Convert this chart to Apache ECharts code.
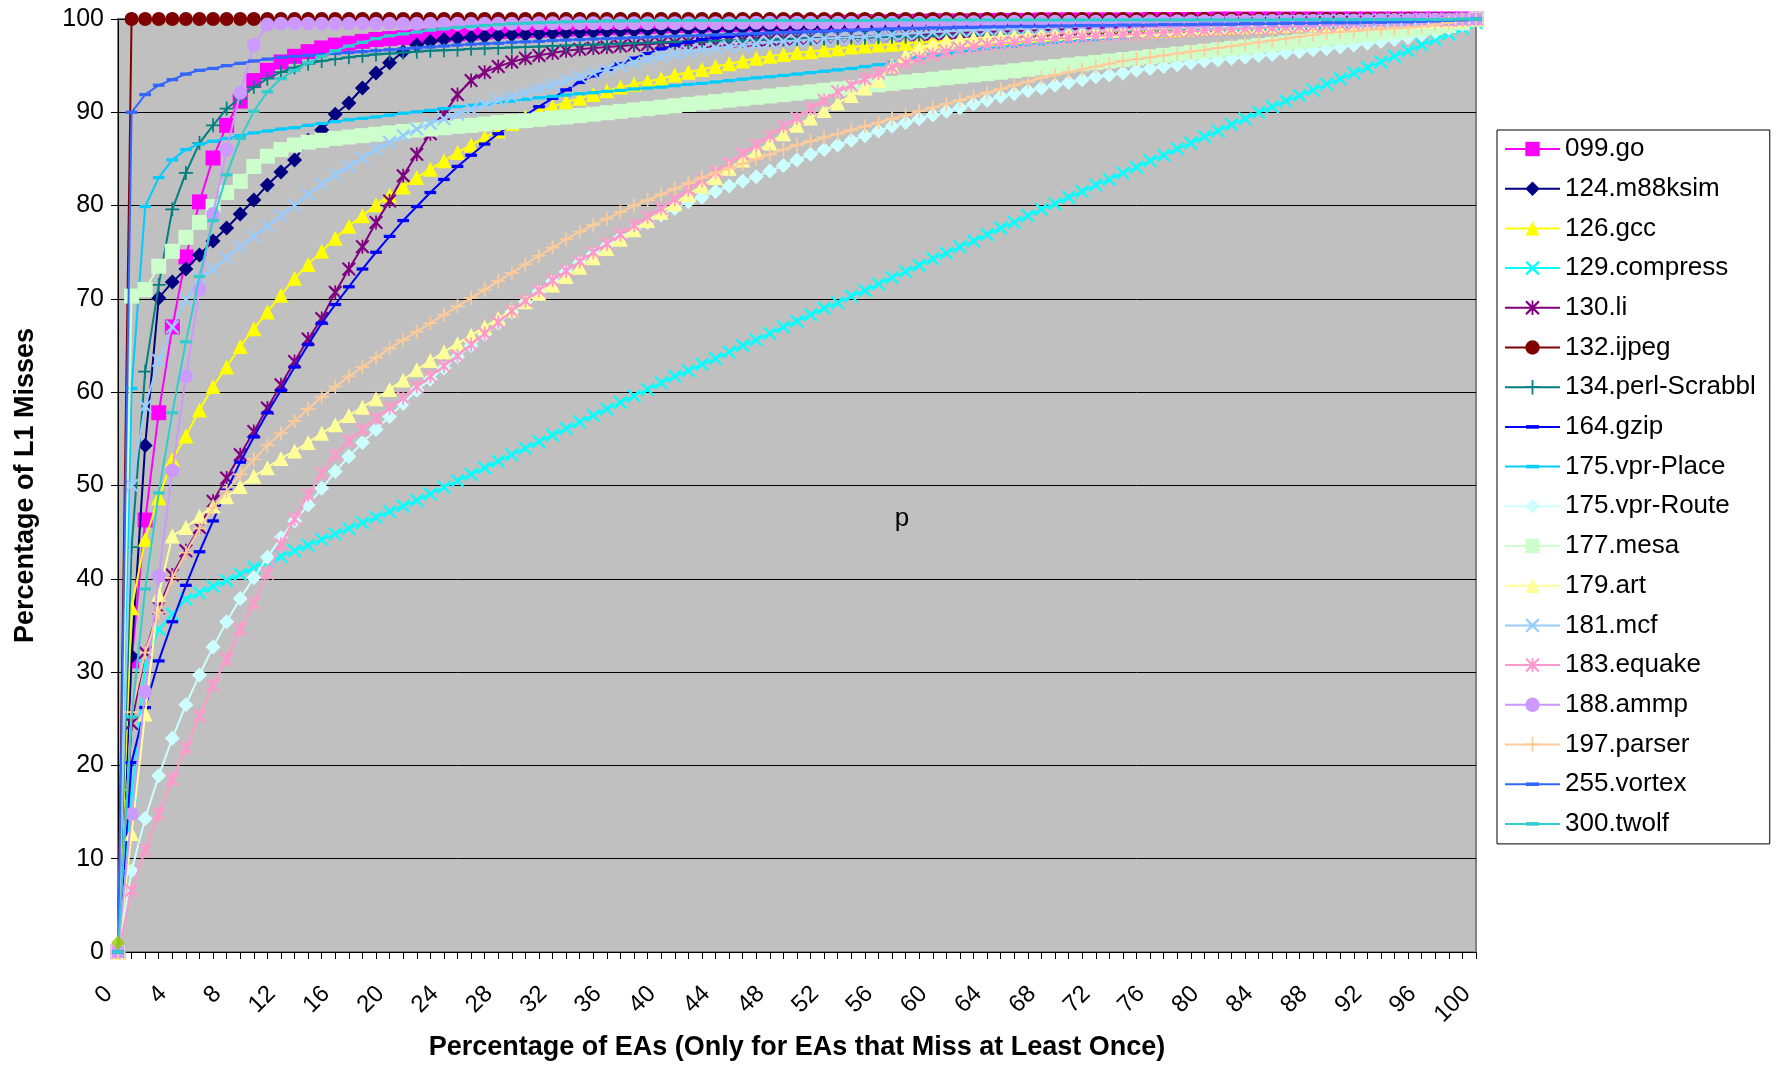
<!DOCTYPE html>
<html>
<head>
<meta charset="utf-8">
<script src="https://cdn.jsdelivr.net/npm/echarts/dist/echarts.min.js"></script>
<style>
html,body{margin:0;padding:0;background:#fff;}
#chart{width:1780px;height:1066px;}
</style>
</head>
<body>
<div id="chart"></div>
<script>
// ---- categories (percentage of EAs) ----
const xCats = ['0','1','2','3','4','5','6','7','8','9','10','11','12','13','14','15','16','17','18','19','20',
'21','22','23','24','25','26','27','28','29','30','31','32','33','34','35','36','37','38','39','40',
'41','42','43','44','45','46','47','48','49','50','51','52','53','54','55','56','57','58','59','60',
'61','62','63','64','65','66','67','68','69','70','71','72','73','74','75','76','77','78','79','80',
'81','82','83','84','85','86','87','88','89','90','91','92','93','94','95','96','97','98','99','100'];

const seriesNames = ['099.go','124.m88ksim','126.gcc','129.compress','130.li','132.ijpeg','134.perl-Scrabbl','164.gzip',
'175.vpr-Place','175.vpr-Route','177.mesa','179.art','181.mcf','183.equake','188.ammp','197.parser','255.vortex','300.twolf'];

// ---- series values (percentage of L1 misses) ----
const go = [0,
31.2,46.3,57.8,67.0,74.5,80.4,85.1,88.6,91.2,93.4,
94.5,95.4,96.0,96.5,96.9,97.2,97.4,97.6,97.8,97.9,
98.0,98.1,98.2,98.3,98.4,98.5,98.6,98.65,98.7,98.75,
98.8,98.85,98.9,98.95,99.0,99.05,99.1,99.15,99.2,99.25,
99.3,99.3,99.35,99.4,99.4,99.45,99.5,99.5,99.55,99.6,
99.6,99.6,99.65,99.65,99.7,99.7,99.7,99.75,99.75,99.8,
99.8,99.8,99.8,99.85,99.85,99.85,99.85,99.9,99.9,99.9,
99.9,99.9,99.9,99.9,99.9,99.95,99.95,99.95,99.95,99.95,
100,100,100,100,100,100,100,100,100,100,
100,100,100,100,100,100,100,100,100,100];
const m88ksim = [0,
31.7,54.3,70.1,71.8,73.2,74.7,76.2,77.6,79.1,80.6,
82.2,83.6,84.9,87.0,88.1,89.8,91.0,92.6,94.2,95.3,
96.5,97.2,97.6,97.8,97.95,98.05,98.15,98.25,98.3,98.35,
98.4,98.45,98.5,98.55,98.6,98.65,98.7,98.75,98.8,98.85,
98.9,98.9,98.95,98.95,99.0,99.0,99.05,99.05,99.1,99.1,
99.15,99.15,99.2,99.2,99.25,99.25,99.3,99.3,99.35,99.35,
99.4,99.4,99.45,99.45,99.5,99.5,99.5,99.55,99.55,99.6,
99.6,99.6,99.65,99.65,99.7,99.7,99.7,99.75,99.75,99.8,
99.8,99.8,99.8,99.85,99.85,99.85,99.9,99.9,99.9,99.9,
99.9,99.9,99.95,99.95,99.95,99.95,100,100,100,100];
const gcc = [0,
36.9,44.2,48.7,52.8,55.3,58.1,60.6,62.7,64.9,66.8,
68.6,70.4,72.2,73.7,75.1,76.5,77.8,78.9,80.1,81.1,
82.0,83.0,83.9,84.8,85.7,86.5,87.3,88.0,88.8,89.5,
90.1,90.6,91.1,91.5,91.9,92.3,92.7,93.0,93.3,93.6,
94.0,94.3,94.6,94.9,95.2,95.5,95.8,96.0,96.2,96.4,
96.5,96.7,96.8,97.0,97.1,97.2,97.3,97.4,97.5,97.6,
97.7,97.8,97.85,97.9,98.0,98.1,98.15,98.2,98.3,98.4,
98.45,98.5,98.6,98.65,98.7,98.75,98.8,98.85,98.9,99.0,
99.05,99.1,99.15,99.2,99.25,99.3,99.35,99.4,99.45,99.5,
99.55,99.6,99.65,99.7,99.75,99.8,99.85,99.9,99.95,100];
const compress = [0,
16.8,30.7,34.6,36.2,37.8,38.5,39.2,39.8,40.5,41.2,
41.8,42.4,43.0,43.6,44.2,44.8,45.4,46.0,46.6,47.2,
47.8,48.4,49.1,49.8,50.5,51.2,51.9,52.6,53.3,54.0,
54.7,55.4,56.1,56.8,57.5,58.2,58.9,59.6,60.3,61.0,
61.7,62.3,63.0,63.6,64.3,65.0,65.6,66.3,67.0,67.6,
68.3,69.0,69.6,70.3,70.9,71.6,72.3,72.9,73.6,74.3,
74.9,75.6,76.2,76.9,77.6,78.2,78.9,79.6,80.2,80.9,
81.5,82.2,82.8,83.5,84.1,84.8,85.4,86.1,86.7,87.4,
88.0,88.7,89.3,90.0,90.6,91.2,91.8,92.4,93.0,93.6,
94.2,94.8,95.4,96.0,96.6,97.2,97.8,98.4,99.0,99.6];
const li = [0,
24.5,32.1,36.9,40.4,43.0,45.5,48.3,50.8,53.3,55.8,
58.3,60.8,63.3,65.7,67.9,70.7,73.2,75.6,78.2,80.5,
83.2,85.5,87.7,89.8,91.9,93.4,94.3,94.9,95.4,95.8,
96.1,96.35,96.6,96.75,96.9,97.0,97.1,97.2,97.3,97.4,
97.45,97.5,97.55,97.6,97.65,97.7,97.75,97.8,97.85,97.9,
97.95,98.0,98.05,98.1,98.15,98.2,98.25,98.3,98.35,98.4,
98.45,98.5,98.55,98.6,98.65,98.7,98.75,98.8,98.85,98.9,
98.95,99.0,99.0,99.05,99.1,99.1,99.15,99.2,99.2,99.25,
99.3,99.3,99.35,99.4,99.4,99.45,99.5,99.5,99.55,99.6,
99.6,99.65,99.7,99.7,99.75,99.8,99.85,99.9,99.95,100];
const ijpeg = [0,
100,100,100,100,100,100,100,100,100,100,
100,100,100,100,100,100,100,100,100,100,
100,100,100,100,100,100,100,100,100,100,
100,100,100,100,100,100,100,100,100,100,
100,100,100,100,100,100,100,100,100,100,
100,100,100,100,100,100,100,100,100,100,
100,100,100,100,100,100,100,100,100,100,
100,100,100,100,100,100,100,100,100,100,
100,100,100,100,100,100,100,100,100,100,
100,100,100,100,100,100,100,100,100,100];
const perl = [0,
43.4,62.2,71.5,79.6,83.5,86.7,88.6,90.4,91.5,92.7,
93.6,94.3,94.8,95.2,95.5,95.7,95.9,96.05,96.2,96.3,
96.4,96.5,96.6,96.65,96.7,96.8,96.85,96.9,96.95,97.0,
97.05,97.1,97.15,97.2,97.25,97.3,97.35,97.4,97.45,97.5,
97.55,97.6,97.6,97.65,97.7,97.7,97.75,97.8,97.8,97.85,
97.9,97.9,97.95,98.0,98.0,98.05,98.1,98.1,98.15,98.2,
98.25,98.3,98.3,98.35,98.4,98.45,98.5,98.5,98.55,98.6,
98.65,98.7,98.7,98.75,98.8,98.85,98.9,98.9,98.95,99.0,
99.05,99.1,99.1,99.15,99.2,99.25,99.3,99.3,99.35,99.4,
99.45,99.5,99.55,99.6,99.65,99.7,99.8,99.85,99.9,100];
const gzip = [0,
20.3,26.2,31.2,35.4,39.3,42.9,46.2,49.5,52.5,55.2,
57.8,60.2,62.7,65.1,67.4,69.4,71.3,73.2,75.0,76.7,
78.4,79.9,81.4,82.8,84.2,85.4,86.6,87.7,88.7,89.7,
90.6,91.5,92.4,93.2,93.9,94.6,95.2,95.8,96.3,96.8,
97.2,97.5,97.8,98.0,98.15,98.3,98.4,98.5,98.55,98.6,
98.65,98.7,98.75,98.8,98.85,98.9,98.95,99.0,99.05,99.1,
99.1,99.15,99.15,99.2,99.2,99.25,99.3,99.3,99.35,99.4,
99.4,99.45,99.45,99.5,99.5,99.5,99.55,99.55,99.6,99.6,
99.6,99.65,99.65,99.7,99.7,99.7,99.75,99.75,99.8,99.8,
99.8,99.85,99.85,99.9,99.9,99.9,99.95,99.95,100,100];
const vprPlace = [0,
60.4,79.9,83.0,84.9,86.0,86.6,86.9,87.2,87.5,87.8,
88.0,88.2,88.35,88.6,88.8,89.0,89.2,89.35,89.5,89.7,
89.9,90.05,90.2,90.4,90.6,90.75,90.9,91.05,91.2,91.4,
91.55,91.7,91.85,92.0,92.1,92.25,92.35,92.5,92.6,92.7,
92.85,93.0,93.1,93.25,93.4,93.55,93.7,93.8,93.95,94.1,
94.25,94.4,94.55,94.7,94.9,95.1,95.35,95.6,95.85,96.1,
96.3,96.5,96.65,96.85,97.0,97.1,97.25,97.35,97.5,97.6,
97.7,97.8,97.9,98.0,98.1,98.2,98.25,98.35,98.4,98.5,
98.6,98.65,98.75,98.8,98.9,98.95,99.0,99.1,99.15,99.2,
99.3,99.35,99.45,99.5,99.6,99.7,99.75,99.85,99.9,100];
const vprRoute = [0,
8.7,14.3,18.9,22.9,26.5,29.7,32.7,35.4,37.9,40.1,
42.3,44.4,46.2,47.9,49.7,51.5,53.1,54.6,56.0,57.4,
58.8,60.2,61.4,62.6,63.8,65.0,66.2,67.4,68.6,69.7,
70.8,71.9,72.9,73.9,74.8,75.7,76.6,77.4,78.2,79.0,
79.7,80.4,80.9,81.5,82.1,82.6,83.1,83.7,84.3,84.9,
85.5,86.0,86.5,87.0,87.5,88.0,88.5,88.9,89.3,89.7,
90.1,90.5,90.9,91.3,91.7,92.0,92.3,92.6,92.9,93.2,
93.5,93.8,94.0,94.2,94.5,94.7,94.9,95.1,95.3,95.5,
95.6,95.8,95.9,96.1,96.2,96.4,96.5,96.7,96.8,97.0,
97.2,97.4,97.6,97.8,98.0,98.3,98.6,99.0,99.4,100];
const mesa = [0,
70.3,71.0,73.5,75.1,76.6,78.2,79.9,81.4,82.6,84.2,
85.3,86.0,86.5,86.8,87.0,87.2,87.35,87.5,87.65,87.8,
87.95,88.1,88.2,88.35,88.5,88.6,88.75,88.9,89.0,89.1,
89.25,89.4,89.5,89.65,89.8,89.95,90.1,90.25,90.4,90.55,
90.7,90.85,91.0,91.15,91.3,91.45,91.6,91.75,91.9,92.05,
92.2,92.35,92.5,92.65,92.8,92.95,93.1,93.25,93.4,93.55,
93.7,93.85,94.0,94.15,94.3,94.45,94.6,94.75,94.9,95.05,
95.2,95.35,95.5,95.65,95.8,95.95,96.1,96.25,96.4,96.55,
96.7,96.85,97.0,97.15,97.3,97.45,97.6,97.75,97.9,98.05,
98.2,98.35,98.5,98.65,98.8,98.95,99.1,99.3,99.6,100];
const art = [0,
12.7,25.5,38.3,44.6,45.5,46.7,47.8,48.8,49.9,51.0,
51.9,52.9,53.7,54.6,55.6,56.5,57.5,58.4,59.3,60.3,
61.3,62.4,63.4,64.3,65.2,66.1,67.0,67.9,68.8,69.7,
70.6,71.5,72.4,73.4,74.4,75.4,76.4,77.4,78.4,79.3,
80.2,81.2,82.1,83.0,84.0,84.9,85.8,86.7,87.7,88.6,
89.4,90.2,91.0,91.8,92.6,93.4,95.0,96.1,96.9,97.3,
97.6,97.8,97.95,98.05,98.15,98.25,98.35,98.45,98.5,98.6,
98.65,98.7,98.75,98.8,98.85,98.9,98.95,99.0,99.05,99.1,
99.15,99.2,99.2,99.25,99.3,99.35,99.4,99.4,99.45,99.5,
99.55,99.6,99.6,99.65,99.7,99.75,99.8,99.85,99.9,100];
const mcf = [0,
50.0,58.5,63.4,67.0,69.9,72.2,73.2,74.4,75.6,76.7,
77.8,78.9,80.0,81.2,82.3,83.3,84.2,85.1,86.0,86.8,
87.5,88.2,88.8,89.3,89.8,90.3,90.8,91.3,91.7,92.1,
92.5,92.9,93.4,93.8,94.2,94.6,95.0,95.3,95.7,96.0,
96.25,96.5,96.7,96.9,97.05,97.2,97.35,97.5,97.6,97.7,
97.8,97.9,98.0,98.05,98.1,98.2,98.3,98.4,98.5,98.6,
98.7,98.8,98.85,98.9,98.95,99.0,99.05,99.1,99.15,99.2,
99.25,99.3,99.35,99.4,99.45,99.5,99.5,99.55,99.55,99.6,
99.6,99.65,99.65,99.7,99.7,99.75,99.75,99.8,99.8,99.85,
99.85,99.85,99.9,99.9,99.9,99.95,99.95,99.95,100,100];
const equake = [0,
6.6,10.9,14.8,18.5,21.9,25.3,28.6,31.4,34.6,37.4,
40.6,43.7,46.4,49.0,51.3,53.3,54.8,56.0,57.2,58.3,
59.4,60.6,61.7,62.8,63.9,65.1,66.3,67.5,68.7,69.8,
70.9,72.0,73.0,74.0,75.0,75.9,76.9,77.9,78.8,79.7,
80.7,81.7,82.7,83.6,84.5,85.5,86.5,87.5,88.5,89.4,
90.4,91.3,92.2,92.9,93.6,94.2,94.8,95.3,95.8,96.2,
96.5,96.8,97.0,97.2,97.4,97.5,97.65,97.8,97.9,98.0,
98.1,98.2,98.25,98.35,98.4,98.5,98.55,98.65,98.7,98.8,
98.85,98.9,98.95,99.0,99.1,99.15,99.2,99.25,99.3,99.4,
99.45,99.5,99.55,99.6,99.7,99.75,99.8,99.85,99.9,100];
const ammp = [0,
14.8,27.9,40.3,51.6,61.7,71.0,79.1,86.0,92.1,97.2,
99.4,99.5,99.5,99.5,99.5,99.5,99.5,99.5,99.5,99.5,
99.5,99.5,99.5,99.5,99.5,99.5,99.5,99.5,99.5,99.5,
99.55,99.55,99.55,99.55,99.55,99.55,99.55,99.55,99.55,99.55,
99.55,99.55,99.55,99.55,99.55,99.6,99.6,99.6,99.6,99.6,
99.6,99.6,99.6,99.6,99.6,99.6,99.6,99.6,99.6,99.6,
99.65,99.65,99.65,99.65,99.65,99.7,99.7,99.7,99.7,99.7,
99.7,99.7,99.7,99.7,99.7,99.75,99.75,99.75,99.75,99.75,
99.8,99.8,99.8,99.8,99.8,99.8,99.8,99.8,99.8,99.8,
99.85,99.85,99.9,99.9,99.9,99.95,99.95,99.95,100,100];
const parser = [0,
25.7,32.1,36.4,40.1,42.8,45.4,47.6,49.4,51.2,52.8,
54.3,55.6,56.9,58.2,59.5,60.6,61.7,62.7,63.7,64.7,
65.6,66.5,67.4,68.3,69.2,70.1,71.0,71.9,72.8,73.7,
74.6,75.5,76.4,77.2,77.9,78.6,79.3,80.0,80.6,81.2,
81.8,82.4,83.0,83.5,84.0,84.5,85.0,85.5,86.0,86.5,
86.9,87.3,87.7,88.1,88.5,88.9,89.3,89.7,90.1,90.5,
90.9,91.3,91.7,92.1,92.5,92.9,93.3,93.7,94.0,94.3,
94.6,94.9,95.2,95.5,95.7,95.9,96.1,96.3,96.5,96.7,
96.9,97.1,97.3,97.5,97.7,97.9,98.1,98.3,98.5,98.6,
98.7,98.8,98.9,99.0,99.1,99.2,99.4,99.6,99.8,100];
const vortex = [0,
90.0,91.9,92.9,93.5,94.1,94.5,94.7,95.0,95.25,95.5,
95.7,95.9,96.0,96.1,96.2,96.3,96.4,96.5,96.6,96.7,
96.8,96.9,97.0,97.1,97.2,97.3,97.35,97.4,97.5,97.55,
97.6,97.7,97.75,97.8,97.85,97.9,97.95,98.0,98.05,98.1,
98.15,98.2,98.25,98.3,98.35,98.4,98.45,98.5,98.55,98.6,
98.65,98.7,98.75,98.8,98.85,98.9,98.95,99.0,99.0,99.05,
99.05,99.1,99.1,99.15,99.15,99.2,99.2,99.2,99.25,99.25,
99.3,99.3,99.3,99.35,99.35,99.35,99.4,99.4,99.4,99.45,
99.45,99.45,99.5,99.5,99.5,99.55,99.55,99.55,99.6,99.6,
99.6,99.65,99.65,99.7,99.7,99.75,99.8,99.85,99.9,100];
const twolf = [0,
25.2,38.9,49.2,57.8,65.4,72.4,78.4,83.3,87.2,90.1,
92.2,93.6,94.5,95.3,96.0,96.6,97.1,97.5,97.9,98.2,
98.4,98.6,98.8,98.95,99.1,99.2,99.3,99.4,99.5,99.55,
99.6,99.65,99.7,99.75,99.75,99.8,99.8,99.8,99.85,99.85,
99.85,99.85,99.85,99.85,99.85,99.85,99.85,99.85,99.85,99.85,
99.85,99.85,99.85,99.85,99.85,99.9,99.9,99.9,99.9,99.9,
99.9,99.9,99.9,99.9,99.9,99.9,99.9,99.9,99.9,99.9,
99.9,99.9,99.9,99.9,99.9,99.9,99.9,99.9,99.9,99.9,
99.9,99.9,99.9,99.9,99.9,99.95,99.95,99.95,99.95,99.95,
99.95,99.95,99.95,99.95,99.95,99.95,99.95,99.95,100,100];
// stray marker at origin in the source chart
const strayPoint = [['0', 1]];

// ---- styles ----
const FONT = '"Liberation Sans", Arial, sans-serif';
const SYM_X = 'path://M2,0L10,7.5L18,0L20,2L12.5,10L20,18L18,20L10,12.5L2,20L0,18L7.5,10L0,2Z';
const SYM_PLUS = 'path://M8.75,0H11.25V8.75H20V11.25H11.25V20H8.75V11.25H0V8.75H8.75Z';
const SYM_STAR = 'path://M2,0L10,7.5L18,0L20,2L12.5,10L20,18L18,20L10,12.5L2,20L0,18L7.5,10L0,2Z M8.75,0H11.25V20H8.75Z';
const SYM_DASH = 'path://M0,0M20,20M1,7.5H19V12.5H1Z';

const values = [go, m88ksim, gcc, compress, li, ijpeg, perl, gzip, vprPlace, vprRoute, mesa, art, mcf, equake, ammp, parser, vortex, twolf];
const styles = [
  {c:'#FF00FF', s:'rect', z:15},
  {c:'#000080', s:'diamond', z:15},
  {c:'#FFFF00', s:'triangle', z:15},
  {c:'#00FFFF', s:SYM_X, z:14},
  {c:'#800080', s:SYM_STAR, z:14},
  {c:'#800000', s:'circle', z:14},
  {c:'#008080', s:SYM_PLUS, z:14},
  {c:'#0000FF', s:SYM_DASH, z:13},
  {c:'#00CCFF', s:SYM_DASH, z:13},
  {c:'#CCFFFF', s:'diamond', z:15},
  {c:'#CCFFCC', s:'rect', z:15},
  {c:'#FFFF99', s:'triangle', z:15},
  {c:'#99CCFF', s:SYM_X, z:14},
  {c:'#FF99CC', s:SYM_STAR, z:14},
  {c:'#CC99FF', s:'circle', z:14},
  {c:'#FFCC99', s:SYM_PLUS, z:14},
  {c:'#3366FF', s:SYM_DASH, z:13},
  {c:'#33CCCC', s:SYM_DASH, z:13}
];

const series = seriesNames.map((name, i) => ({
  name: name,
  type: 'line',
  data: values[i],
  z: 10 + i,
  symbol: styles[i].s,
  symbolSize: styles[i].z,
  showSymbol: true,
  showAllSymbol: true,
  animation: false,
  lineStyle: {color: styles[i].c, width: 2},
  itemStyle: {color: styles[i].c, borderWidth: 0},
  emphasis: {disabled: true}
}));
series.push({
  name: 'stray', type: 'scatter', data: strayPoint, z: 40,
  symbol: 'diamond', symbolSize: 14, itemStyle: {color: '#99CC00'}, animation: false,
  emphasis: {disabled: true}
});

const chart = echarts.init(document.getElementById('chart'), null, {renderer: 'canvas'});
chart.setOption({
  backgroundColor: '#FFFFFF',
  animation: false,
  textStyle: {fontFamily: FONT},
  grid: {
    left: 118, right: 304, top: 19, bottom: 114,
    show: true, backgroundColor: '#C0C0C0', borderColor: '#808080', borderWidth: 2,
    containLabel: false, outerBoundsMode: 'none'
  },
  legend: {
    data: seriesNames,
    orient: 'vertical',
    left: 1497, top: 130,
    itemWidth: 55, itemHeight: 18, itemGap: 11.7,
    padding: [5, 14, 6, 7],
    borderColor: '#000', borderWidth: 1, backgroundColor: '#FFFFFF',
    textStyle: {fontSize: 26, lineHeight: 28, color: '#000', fontFamily: FONT},
    selectedMode: false
  },
  xAxis: {
    type: 'category',
    data: xCats,
    boundaryGap: false,
    name: 'Percentage of EAs (Only for EAs that Miss at Least Once)',
    nameLocation: 'middle',
    nameGap: 81,
    nameTextStyle: {fontSize: 27, fontWeight: 'bold', color: '#000', fontFamily: FONT},
    axisLine: {show: true, lineStyle: {color: '#000', width: 1}},
    axisTick: {show: true, interval: 0, length: 7, lineStyle: {color: '#000'}},
    axisLabel: {interval: 3, rotate: 45, fontSize: 24, margin: 29, padding: [0, 13, 0, 0], color: '#000', fontFamily: FONT},
    splitLine: {show: false}
  },
  yAxis: {
    type: 'value',
    min: 0, max: 100, interval: 10,
    name: 'Percentage of L1 Misses',
    nameLocation: 'middle',
    nameGap: 79,
    nameTextStyle: {fontSize: 27, fontWeight: 'bold', color: '#000', fontFamily: FONT},
    axisLine: {show: true, lineStyle: {color: '#000', width: 1}},
    axisTick: {show: true, length: 7, lineStyle: {color: '#000'}},
    axisLabel: {fontSize: 25, margin: 14, color: '#000', fontFamily: FONT},
    splitLine: {show: true, lineStyle: {color: '#000', width: 1}}
  },
  graphic: [{
    type: 'text', x: 902, y: 519, z: 100,
    style: {text: 'p', fontSize: 26, fontFamily: FONT, fill: '#000', align: 'center', verticalAlign: 'middle'}
  }],
  series: series
});
</script>
</body>
</html>
